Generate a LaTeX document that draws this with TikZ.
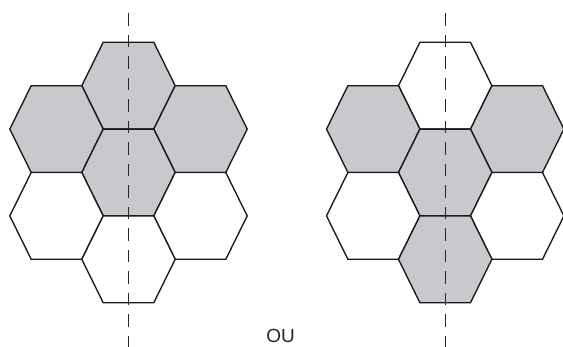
\documentclass[tikz,border=0pt]{standalone}
\usepackage{fontspec}
\setmainfont{Liberation Sans}
\definecolor{cellgrey}{RGB}{200,201,204}
\begin{document}
\begin{tikzpicture}[x=1pt,y=-1pt,
  hexline/.style={line width=1.35pt, line join=miter, draw=black!90},
  axisline/.style={line width=1.6pt, draw=black!85, dash pattern=on 12.5pt off 9pt}]
\useasboundingbox[fill=white] (0,0) rectangle (563,347);
\def\ha{25.3}\def\hw{46.7}\def\hh{43.4}
% both clusters
\foreach \cx/\cy/\f in {128.5/85.7/cellgrey, 56.5/129.1/cellgrey, 200.5/129.1/cellgrey, 128.5/172.5/cellgrey,
  56.5/215.9/white, 200.5/215.9/white, 128.5/259.3/white,
  445.2/85.7/white, 373.2/129.1/cellgrey, 517.2/129.1/cellgrey, 445.2/172.5/cellgrey,
  373.2/215.9/white, 517.2/215.9/white, 445.2/259.3/cellgrey}
{
  \filldraw[hexline, fill=\f] (\cx-\ha,\cy-\hh) -- (\cx+\ha,\cy-\hh) -- (\cx+\hw,\cy)
     -- (\cx+\ha,\cy+\hh) -- (\cx-\ha,\cy+\hh) -- (\cx-\hw,\cy) -- cycle;
}
% symmetry axes
\coordinate (axLtop) at (128.4,13.3);
\coordinate (axLbot) at (128.4,347);
\coordinate (axRtop) at (445.6,13.3);
\coordinate (axRbot) at (445.6,347);
\draw[axisline] (axLtop) -- (axLbot);
\draw[axisline] (axRtop) -- (axRbot);
\node[anchor=base, inner sep=0pt, text=black!85, font=\fontsize{19}{22}\selectfont] (ou) at (280.5,342.5) {OU};
\end{tikzpicture}
\end{document}
